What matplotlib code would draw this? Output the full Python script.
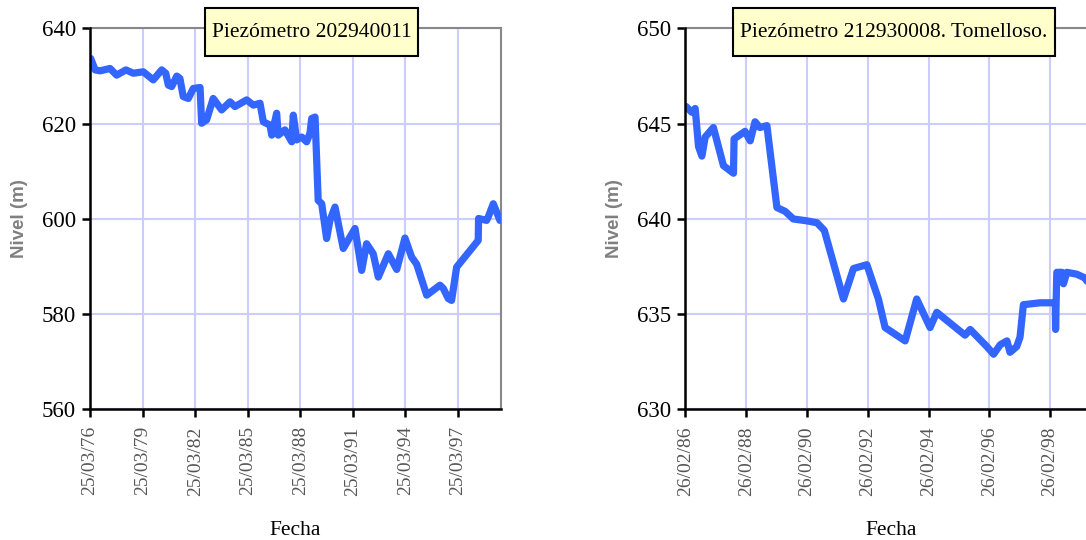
import numpy as np
import matplotlib
matplotlib.use('agg')
import matplotlib.pyplot as plt
from matplotlib.patches import Rectangle

# Piezometro 202940011 (fecha en años decimales, nivel en m)
fecha_a = [1976.27, 1976.52, 1976.80, 1977.37, 1977.75, 1978.28, 1978.70, 1979.27, 1979.84,
           1980.32, 1980.55, 1980.70, 1980.89, 1981.18, 1981.36, 1981.55, 1981.84, 1982.12,
           1982.51, 1982.60, 1982.88, 1983.26, 1983.74, 1984.22, 1984.50, 1985.17, 1985.55,
           1985.93, 1986.12, 1986.50, 1986.60, 1986.88, 1986.97, 1987.35, 1987.74, 1987.83,
           1988.02, 1988.31, 1988.59, 1988.78, 1988.88, 1989.07, 1989.25, 1989.45, 1989.73,
           1989.92, 1990.21, 1990.68, 1991.35, 1991.73, 1992.01, 1992.39, 1992.68, 1993.25,
           1993.73, 1994.20, 1994.58, 1994.87, 1995.44, 1996.20, 1996.39, 1996.67, 1996.86,
           1997.15, 1998.38, 1998.40, 1998.86, 1998.95, 1999.24, 1999.62]
nivel_a = [633.7, 631.3, 631.1, 631.6, 630.2, 631.3, 630.6, 630.9, 629.2,
           631.3, 630.6, 628.1, 627.8, 630.0, 629.5, 625.7, 625.3, 627.4,
           627.6, 620.1, 620.8, 625.3, 622.9, 624.6, 623.6, 625.0, 623.9,
           624.3, 620.4, 619.7, 617.6, 622.2, 617.6, 618.7, 616.2, 621.8,
           616.6, 617.2, 616.2, 618.0, 621.1, 621.4, 603.9, 603.2, 595.9,
           599.7, 602.5, 593.8, 598.0, 589.2, 594.8, 592.7, 587.8, 592.7,
           589.4, 596.0, 592.0, 590.5, 584.0, 586.1, 585.4, 583.3, 582.9,
           589.9, 595.5, 600.1, 599.7, 600.4, 603.2, 599.7]

# Piezometro 212930008. Tomelloso.
fecha_b = [1986.18, 1986.37, 1986.48, 1986.59, 1986.70, 1986.81, 1987.08, 1987.41, 1987.74,
           1987.76, 1988.12, 1988.29, 1988.45, 1988.61, 1988.84, 1989.17, 1989.44, 1989.71,
           1990.16, 1990.49, 1990.73, 1991.36, 1991.69, 1992.13, 1992.51, 1992.73, 1993.39,
           1993.77, 1994.21, 1994.43, 1995.36, 1995.53, 1996.08, 1996.30, 1996.52, 1996.74,
           1996.84, 1997.06, 1997.17, 1997.28, 1997.83, 1998.16, 1998.33, 1998.34, 1998.38,
           1998.55, 1998.60, 1998.71, 1999.04, 1999.31, 1999.50]
nivel_b = [645.9, 645.6, 645.8, 643.8, 643.3, 644.3, 644.8, 642.8, 642.4,
           644.2, 644.6, 644.1, 645.1, 644.8, 644.9, 640.6, 640.4, 640.0,
           639.9, 639.8, 639.4, 635.8, 637.4, 637.6, 635.8, 634.3, 633.6,
           635.8, 634.3, 635.1, 633.9, 634.2, 633.3, 632.9, 633.4, 633.6,
           633.0, 633.3, 633.8, 635.5, 635.6, 635.6, 635.6, 634.2, 637.2,
           637.2, 636.6, 637.2, 637.1, 636.9, 636.4]

ticks_a = [1976.23, 1979.23, 1982.23, 1985.23, 1988.23, 1991.23, 1994.23, 1997.23]
labels_a = ['25/03/76', '25/03/79', '25/03/82', '25/03/85', '25/03/88', '25/03/91', '25/03/94', '25/03/97']
ticks_b = [1986.16, 1988.16, 1990.16, 1992.16, 1994.16, 1996.16, 1998.16]
labels_b = ['26/02/86', '26/02/88', '26/02/90', '26/02/92', '26/02/94', '26/02/96', '26/02/98']

plt.rcParams['font.family'] = ['Liberation Serif', 'DejaVu Serif']

fig = plt.figure(figsize=(10.86, 5.4), dpi=100)

blue = '#3366ff'
grid_c = '#ccccff'


def panel(rect, x, y, ticks, labels, xlim, ylim, yticks, title, box, tx):
    ax = fig.add_axes(rect)
    ax.plot(x, y, color=blue, lw=5.2, solid_joinstyle='round', solid_capstyle='round', zorder=3)
    ax.set_xlim(*xlim)
    ax.set_ylim(*ylim)
    ax.set_xticks(ticks)
    ax.set_xticklabels(labels, rotation=90, fontsize=14, color='#555555')
    ax.set_yticks(yticks)
    ax.tick_params(axis='y', labelsize=16.5, length=6, width=1.8, pad=4)
    ax.tick_params(axis='x', length=6, width=1.8, pad=6)
    ax.grid(True, color=grid_c, lw=1.5, zorder=0)
    for s in ['left', 'bottom']:
        ax.spines[s].set_linewidth(1.8)
        ax.spines[s].set_color('black')
        ax.spines[s].set_zorder(4)
    for s in ['top', 'right']:
        ax.spines[s].set_linewidth(1.5)
        ax.spines[s].set_color('#888888')
    ax.set_xlabel('Fecha', fontsize=15.5)
    ax.xaxis.set_label_coords(0.5, -0.293)
    ax.text(-0.172, 0.5, 'Nivel (m)', transform=ax.transAxes, rotation=90, ha='center', va='center',
            fontsize=13.5, fontweight='bold', color='#808080', family=['Liberation Sans', 'DejaVu Sans'])
    x0, x1 = box
    ax.add_patch(Rectangle((x0, 0.928), x1 - x0, 0.126, transform=ax.transAxes, clip_on=False,
                           facecolor='#ffffcc', edgecolor='black', lw=1.5, zorder=10))
    ax.text(tx, 0.99, title, transform=ax.transAxes, ha='center', va='center', fontsize=15.5, zorder=11)
    return ax


w = 411 / 1086
panel([90 / 1086, 0.2417, w, 0.7056], fecha_a, nivel_a, ticks_a, labels_a,
      (1976.23, 1999.68), (560, 640), [560, 580, 600, 620, 640],
      'Piezómetro 202940011', (0.280, 0.798), 0.539)
panel([685.3 / 1086, 0.2417, w, 0.7056], fecha_b, nivel_b, ticks_b, labels_b,
      (1986.155, 1999.68), (630, 650), [630, 635, 640, 645, 650],
      'Piezómetro 212930008. Tomelloso.', (0.116, 0.8995), 0.508)

plt.savefig('out.png', dpi=100)
